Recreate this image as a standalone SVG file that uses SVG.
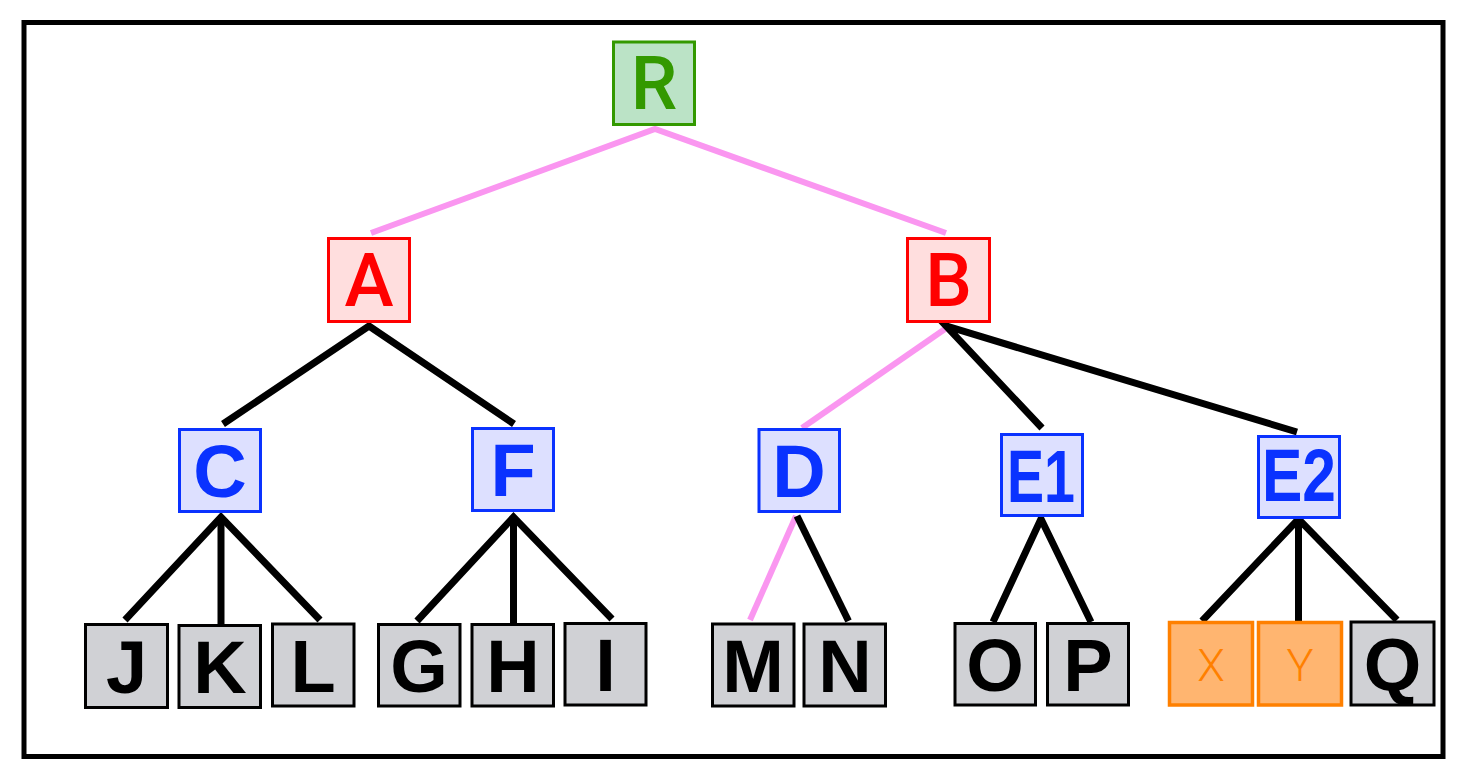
<svg xmlns="http://www.w3.org/2000/svg" width="1462" height="781" viewBox="0 0 1462 781">
<style>
.root rect{fill:#bbe3c6;stroke:#339900;stroke-width:3}
.root text{fill:#339900}
.red rect{fill:#ffdede;stroke:#ff0000;stroke-width:3}
.red text{fill:#ff0000}
.blue rect{fill:#dde0ff;stroke:#0a32ff;stroke-width:3}
.blue text{fill:#0a32ff;font-family:"Liberation Sans",Arial,sans-serif;font-weight:bold;font-size:74px}
.leaf rect{fill:#d0d1d5;stroke:#000;stroke-width:3}
.leaf text{fill:#000;font-family:"Liberation Sans",Arial,sans-serif;font-weight:bold;font-size:74px}
.orange rect{fill:#ffb570;stroke:#ff8000;stroke-width:3.5}
.orange text{fill:#ff8000;font-family:Roboto,"Liberation Sans",sans-serif;font-weight:300;font-size:45px}
.rb text{font-family:Roboto,"Liberation Sans",sans-serif;font-weight:500;font-size:74px}
text{text-anchor:middle}
.k{fill:none;stroke:#000;stroke-width:7;stroke-linejoin:miter}
.p{fill:none;stroke:#fa96f0;stroke-width:6;stroke-linejoin:miter}
</style>
<rect x="24" y="22.5" width="1419" height="734" fill="#fff" stroke="#000" stroke-width="5"/>
<g id="connectors">
<path class="p" d="M371,233 L655,129 L946,233"/>
<path class="k" d="M223,424 L369,326 L514,424"/>
<path class="p" d="M802,428 L945,329"/>
<path class="k" d="M1042,428 L946,326 L1297,432"/>
<path class="k" d="M125,620 L221,517 L320,620"/>
<path class="k" d="M221,517 L221,624"/>
<path class="k" d="M417,621 L513.5,517 L612,619"/>
<path class="k" d="M513.5,517 L513.5,624"/>
<path class="p" d="M796,516 L750,620"/>
<path class="k" d="M797,516 L848.5,621"/>
<path class="k" d="M993,622 L1041,519 L1091,622"/>
<path class="k" d="M1202,621 L1298.5,519 L1397,620"/>
<path class="k" d="M1298.5,519 L1298.5,622"/>
</g>
<g id="node-R" class="root rb"><rect x="613.5" y="42" width="81" height="82.5"/><text x="654" y="109">R</text></g>
<g id="node-A" class="red rb"><rect x="328.5" y="238.5" width="81" height="83"/><text x="369" y="306">A</text></g>
<g id="node-B" class="red rb"><rect x="907.5" y="238.5" width="82" height="83"/><text x="948.5" y="306">B</text></g>
<g id="node-C" class="blue"><rect x="179.5" y="429.5" width="81" height="82"/><text x="220" y="497">C</text></g>
<g id="node-F" class="blue"><rect x="472.5" y="428.5" width="81" height="82"/><text x="513" y="496">F</text></g>
<g id="node-D" class="blue"><rect x="759" y="429.5" width="80.5" height="82"/><text x="799" y="497">D</text></g>
<g id="node-E1" class="blue"><rect x="1001.5" y="434.5" width="81" height="81"/><text x="1041" y="502" textLength="68" lengthAdjust="spacingAndGlyphs">E1</text></g>
<g id="node-E2" class="blue"><rect x="1258.5" y="436.5" width="81" height="81"/><text x="1299" y="501" textLength="74" lengthAdjust="spacingAndGlyphs">E2</text></g>
<g id="node-J" class="leaf"><rect x="85.5" y="624.5" width="82" height="83"/><text x="126.5" y="693">J</text></g>
<g id="node-K" class="leaf"><rect x="179" y="625.5" width="81.5" height="82"/><text x="220" y="693">K</text></g>
<g id="node-L" class="leaf"><rect x="272.5" y="624" width="81.5" height="82"/><text x="313" y="692">L</text></g>
<g id="node-G" class="leaf"><rect x="378.5" y="624.5" width="81.5" height="81.5"/><text x="419" y="692">G</text></g>
<g id="node-H" class="leaf"><rect x="472" y="624.5" width="81.5" height="81.5"/><text x="513" y="692">H</text></g>
<g id="node-I" class="leaf"><rect x="565" y="623.5" width="81" height="81.5"/><text x="605.5" y="691">I</text></g>
<g id="node-M" class="leaf"><rect x="712.5" y="624" width="81.5" height="82"/><text x="753" y="692">M</text></g>
<g id="node-N" class="leaf"><rect x="804" y="624" width="81.5" height="82"/><text x="845" y="692">N</text></g>
<g id="node-O" class="leaf"><rect x="955" y="623.5" width="80.5" height="81.5"/><text x="995" y="691">O</text></g>
<g id="node-P" class="leaf"><rect x="1047.5" y="623.5" width="81" height="81.5"/><text x="1088" y="691">P</text></g>
<g id="node-X" class="orange"><rect x="1169.5" y="622.5" width="83" height="82.5"/><text x="1211" y="681">X</text></g>
<g id="node-Y" class="orange"><rect x="1258.5" y="622.5" width="83" height="82.5"/><text x="1300" y="681">Y</text></g>
<g id="node-Q" class="leaf"><rect x="1351" y="622" width="83" height="83"/><text x="1392.5" y="690">Q</text></g>
</svg>
